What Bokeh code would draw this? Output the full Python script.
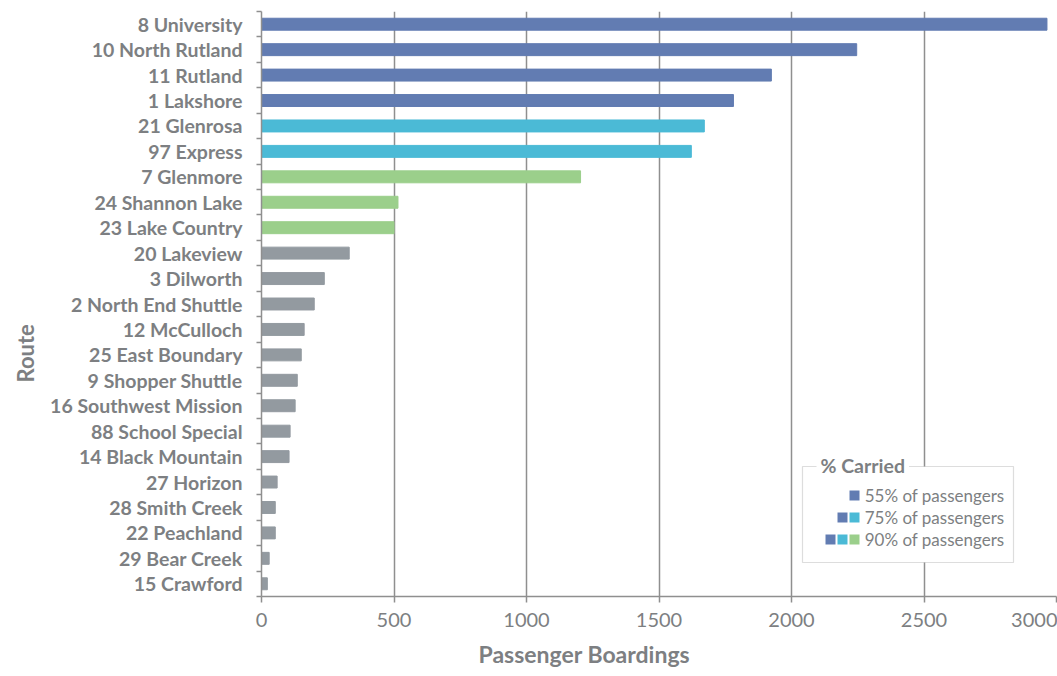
from bokeh.plotting import figure
from bokeh.models import (ColumnDataSource, FixedTicker, Range1d, Title, Label,
                          BoxAnnotation, CustomJSTickFormatter)
from bokeh.embed import file_html
from bokeh.resources import INLINE

# Average passenger boardings per route, top to bottom
routes = [
    "8 University", "10 North Rutland", "11 Rutland", "1 Lakshore",
    "21 Glenrosa", "97 Express", "7 Glenmore", "24 Shannon Lake",
    "23 Lake Country", "20 Lakeview", "3 Dilworth", "2 North End Shuttle",
    "12 McCulloch", "25 East Boundary", "9 Shopper Shuttle",
    "16 Southwest Mission", "88 School Special", "14 Black Mountain",
    "27 Horizon", "28 Smith Creek", "22 Peachland", "29 Bear Creek",
    "15 Crawford",
]
boardings = [2964, 2246, 1924, 1781, 1671, 1622, 1204, 515, 500, 331, 237,
             199, 161, 150, 135, 127, 108, 104, 59, 52, 52, 29, 22]
# share-of-passengers tier each route falls in
tiers = ["55", "55", "55", "55", "75", "75", "90", "90", "90",
         "rest", "rest", "rest", "rest", "rest", "rest", "rest", "rest",
         "rest", "rest", "rest", "rest", "rest", "rest"]
x_ticks = [0, 500, 1000, 1500, 2000, 2500, 3000]
x_title = "Passenger Boardings"
y_title = "Route"
legend_title = "% Carried"
legend_labels = ["55% of passengers", "75% of passengers", "90% of passengers"]
legend_tiers = [["55"], ["55", "75"], ["55", "75", "90"]]

TIER_COLORS = {"55": "#627cb2", "75": "#4bbad6", "90": "#9bcf8b", "rest": "#939aa0"}
TEXT = "#7d7f82"
LINE = "#8f8f8f"
FONT = "Lato"

W, H = 1057, 676
LEFT, RIGHT, TOP, BOTTOM = 261, 1, 11, 80
X_MAX = x_ticks[-1]
N = len(routes)

centers = [N - i - 0.5 for i in range(N)]
edges = list(range(N + 1))

src = ColumnDataSource(dict(
    y=centers, value=boardings, color=[TIER_COLORS[t] for t in tiers],
))

p = figure(width=W, height=H, output_backend="svg", toolbar_location=None,
           x_range=Range1d(0, X_MAX), y_range=Range1d(0, N),
           min_border_left=LEFT, min_border_right=RIGHT,
           min_border_top=TOP, min_border_bottom=BOTTOM)
p.outline_line_color = None
p.background_fill_color = "white"

p.hbar(y="y", left=0, right="value", height=0.47, color="color", source=src)

# x axis
xa = p.xaxis[0]
xa.ticker = FixedTicker(ticks=x_ticks)
xa.axis_line_color = LINE
xa.axis_line_width = 1.5
xa.major_tick_line_color = LINE
xa.major_tick_line_width = 1.5
xa.major_tick_in = 0
xa.major_tick_out = 6
xa.minor_tick_line_color = None
xa.major_label_text_font = FONT
xa.major_label_text_font_size = "20px"
xa.major_label_text_color = TEXT
xa.major_label_standoff = 10

# y axis: route names at bar centres, ticks at category boundaries
ya = p.yaxis[0]
ya.ticker = FixedTicker(ticks=centers, minor_ticks=edges)
ya.formatter = CustomJSTickFormatter(args=dict(names=routes), code="""
    const i = Math.round(names.length - 0.5 - tick);
    return (i >= 0 && i < names.length) ? names[i] : "";
""")
ya.axis_line_color = LINE
ya.axis_line_width = 1.5
ya.major_tick_line_color = None
ya.major_tick_in = 0
ya.major_tick_out = 5
ya.minor_tick_line_color = LINE
ya.minor_tick_line_width = 1.5
ya.minor_tick_in = 0
ya.minor_tick_out = 5
ya.major_label_text_font = FONT
ya.major_label_text_font_size = "19.5px"
ya.major_label_text_font_style = "bold"
ya.major_label_text_color = TEXT
ya.major_label_standoff = 14

p.xgrid.ticker = FixedTicker(ticks=x_ticks)
p.xgrid.grid_line_color = LINE
p.xgrid.grid_line_width = 1.5
p.ygrid.grid_line_color = None

# axis titles
p.add_layout(Title(text=x_title, align="left", offset=217,
                   text_font=FONT, text_font_size="23px", text_font_style="bold",
                   text_color=TEXT, standoff=17), "below")
p.add_layout(Title(text=y_title, align="left", offset=214,
                   text_font=FONT, text_font_size="22px", text_font_style="bold",
                   text_color=TEXT, standoff=18), "left")

# legend, placed in canvas pixels mapped into data space
frame_w = W - LEFT - RIGHT
frame_h = H - TOP - BOTTOM


def dx(px):
    return (px - LEFT) * X_MAX / frame_w


def dy(py):
    return (H - BOTTOM - py) * N / frame_h


p.add_layout(BoxAnnotation(left=dx(802), right=dx(1013), top=dy(466), bottom=dy(562),
                           fill_color="white", fill_alpha=1.0,
                           line_color=LINE, line_width=1.2))
p.add_layout(Label(x=dx(816), y=dy(465), text=legend_title, text_font=FONT,
                   text_font_size="19.5px", text_font_style="bold", text_color=TEXT,
                   text_align="left", text_baseline="middle",
                   background_fill_color="white", padding=4))

row_y = [495, 517, 539]
for label, tier_set, ry in zip(legend_labels, legend_tiers, row_y):
    n = len(tier_set)
    xs = [dx(854 - 12 * (n - 1 - k)) for k in range(n)]
    sq = p.scatter(x=xs, y=[dy(ry)] * n, marker="square", size=10,
                   fill_color=[TIER_COLORS[t] for t in tier_set], line_color=None)
    sq.level = "overlay"
    p.add_layout(Label(x=dx(1004), y=dy(ry), text=label, text_font=FONT,
                       text_font_size="17px", text_color=TEXT,
                       text_align="right", text_baseline="middle"))

open("out.html", "w").write(file_html(p, INLINE))
